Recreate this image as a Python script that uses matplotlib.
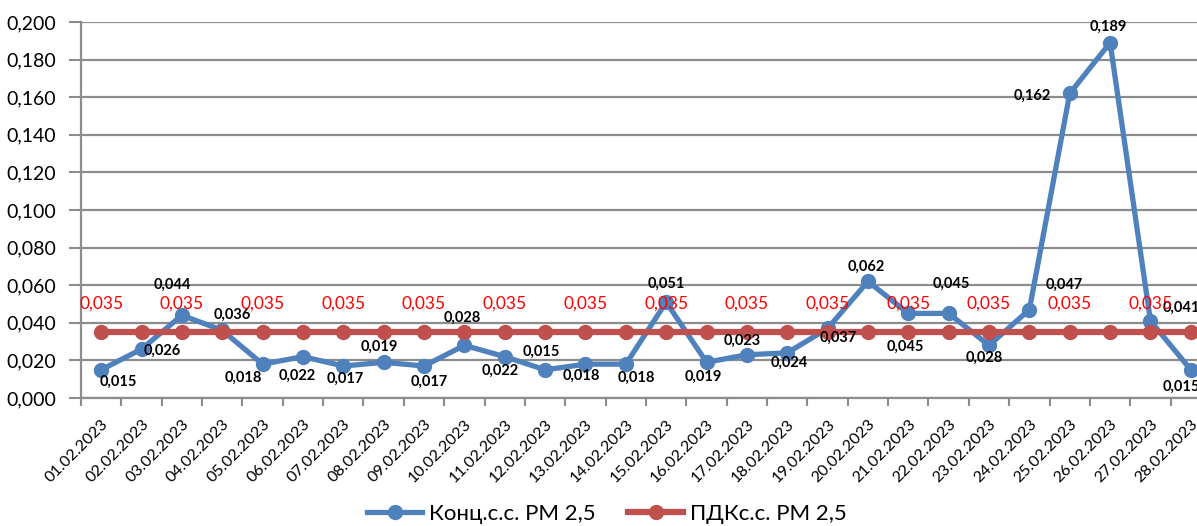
import matplotlib
matplotlib.use("Agg")
import matplotlib.pyplot as plt
from matplotlib.ticker import FixedLocator, FuncFormatter

dates = ["01.02.2023", "02.02.2023", "03.02.2023", "04.02.2023", "05.02.2023",
         "06.02.2023", "07.02.2023", "08.02.2023", "09.02.2023", "10.02.2023",
         "11.02.2023", "12.02.2023", "13.02.2023", "14.02.2023", "15.02.2023",
         "16.02.2023", "17.02.2023", "18.02.2023", "19.02.2023", "20.02.2023",
         "21.02.2023", "22.02.2023", "23.02.2023", "24.02.2023", "25.02.2023",
         "26.02.2023", "27.02.2023", "28.02.2023"]
conc = [0.015, 0.026, 0.044, 0.036, 0.018, 0.022, 0.017, 0.019, 0.017, 0.028,
        0.022, 0.015, 0.018, 0.018, 0.051, 0.019, 0.023, 0.024, 0.037, 0.062,
        0.045, 0.045, 0.028, 0.047, 0.162, 0.189, 0.041, 0.015]
pdk = [0.035] * 28
series_names = ["Конц.с.с. PM 2,5", "ПДКс.с. PM 2,5"]

# label offsets in pixels (dx, dy up)
blue_offsets = [(17, -12), (21, -2), (-10, 30), (10, 16), (-19, -14), (-6, -19),
                (2, -13), (-4, 15), (5, -16), (-2, 28), (-5, -14), (-4, 18),
                (-4, -12), (10, -14), (0, 18), (-3, -15), (-5, 14), (2, -10),
                (11, -9), (-2, 15), (-3, -33), (3, 30), (-5, -12), (35, 25),
                (-37, -2), (-2, 16), (31, 13), (-10, -17)]

FONT = ["Lato", "Noto Sans", "DejaVu Sans"]
plt.rcParams["font.family"] = FONT

BLUE = "#4F81BD"
RED = "#C0504D"
GRID = "#8C8C8C"

fig = plt.figure(figsize=(11.97, 5.26), dpi=100)
ax = fig.add_axes([81 / 1197, 128 / 526, 1130 / 1197, 376 / 526])

x = list(range(len(dates)))
ax.plot(x, conc, color=BLUE, lw=3.8, marker="o", ms=10, zorder=3,
        label=series_names[0], solid_joinstyle="round")
ax.plot(x, pdk, color=RED, lw=4.5, marker="o", ms=10, zorder=4,
        label=series_names[1])

fmt = lambda v: f"{v:.3f}".replace(".", ",")

for i, (v, off) in enumerate(zip(conc, blue_offsets)):
    ax.annotate(fmt(v), (i, v), xytext=off, textcoords="offset pixels",
                ha="center", va="center", fontsize=10.5, fontweight="bold",
                color="black", zorder=6, annotation_clip=False)
for i, v in enumerate(pdk):
    if i % 2 == 0:
        ax.annotate(fmt(v), (i, v), xytext=(0, 29), textcoords="offset pixels",
                    ha="center", va="center", fontsize=12.5, color="#FF0000",
                    zorder=6, annotation_clip=False)

ax.set_xlim(-0.5, len(dates) - 0.5)
ax.set_ylim(0, 0.2)
ax.yaxis.set_major_locator(FixedLocator([i * 0.02 for i in range(11)]))
ax.yaxis.set_major_formatter(FuncFormatter(lambda v, p: fmt(v)))
ax.grid(axis="y", color=GRID, lw=1.6, zorder=0)
ax.set_axisbelow(True)

ax.set_xticks(x)
ax.set_xticklabels(dates, rotation=45, ha="right", va="top",
                   rotation_mode="anchor", fontsize=11.5)
ax.set_xticks([i - 0.5 for i in range(len(dates) + 1)], minor=True)
ax.tick_params(axis="x", which="major", length=0, pad=14)
ax.tick_params(axis="x", which="minor", length=6, width=1.5, color=GRID)
ax.tick_params(axis="y", length=9, width=1.5, color=GRID, labelsize=14, pad=9)

for s in ["top", "right"]:
    ax.spines[s].set_visible(False)
for s in ["left", "bottom"]:
    ax.spines[s].set_color(GRID)
    ax.spines[s].set_linewidth(1.6)

leg = fig.legend(loc="center", bbox_to_anchor=(0.507, 1 - 514 / 526), ncol=2,
                 frameon=False, fontsize=16, handlelength=2.45,
                 columnspacing=1.5, handletextpad=0.3)

fig.savefig("out.png", dpi=100)
